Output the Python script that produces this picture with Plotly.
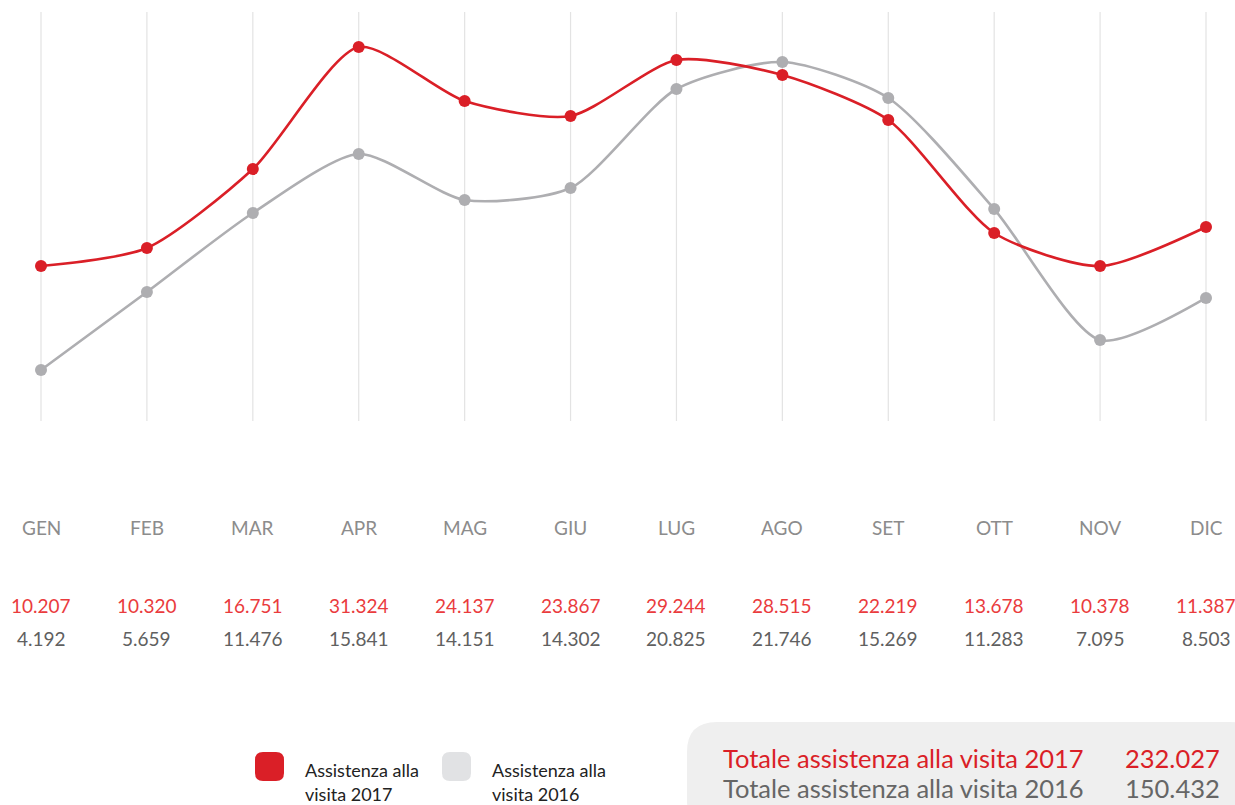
import plotly.graph_objects as go

months = ["GEN", "FEB", "MAR", "APR", "MAG", "GIU", "LUG", "AGO", "SET", "OTT", "NOV", "DIC"]
# labelled values (thousands, Italian format)
labels_2017 = ["10.207", "10.320", "16.751", "31.324", "24.137", "23.867",
               "29.244", "28.515", "22.219", "13.678", "10.378", "11.387"]
labels_2016 = ["4.192", "5.659", "11.476", "15.841", "14.151", "14.302",
               "20.825", "21.746", "15.269", "11.283", "7.095", "8.503"]
# curve heights as drawn in the picture (chart units)
curve_2017 = [13.26, 14.80, 21.56, 32.00, 27.38, 26.10, 30.89, 29.61, 25.76, 16.09, 13.26, 16.60]
curve_2016 = [4.36, 11.04, 17.80, 22.85, 18.91, 19.94, 28.41, 30.72, 27.64, 18.14, 6.93, 10.53]
total_2017 = "232.027"
total_2016 = "150.432"

W, H = 1235, 805
RED = "#da1f27"
RED_LIGHT = "#ea3b3d"
GRAY = "#aeaeb1"
FONT = "Lato"

def px(x):
    return x / W

def py(y):
    return 1 - y / H

idx = list(range(len(months)))
fig = go.Figure()

# vertical grid lines
for i in idx:
    fig.add_shape(type="line", xref="x", yref="y", x0=i, x1=i, y0=0, y1=35,
                  line=dict(color="#e3e3e3", width=1.2), layer="below")

fig.add_trace(go.Scatter(x=idx, y=curve_2016, mode="lines+markers",
                         line=dict(color=GRAY, width=2.6, shape="spline", smoothing=0.7),
                         marker=dict(size=12, color=GRAY), hoverinfo="skip"))
fig.add_trace(go.Scatter(x=idx, y=curve_2017, mode="lines+markers",
                         line=dict(color=RED, width=2.6, shape="spline", smoothing=0.7),
                         marker=dict(size=12, color=RED), hoverinfo="skip"))

annotations = []
for i, m in enumerate(months):
    annotations.append(dict(x=i, y=py(527), xref="x", yref="paper", text=m, showarrow=False,
                            font=dict(family=FONT, size=19, color="#8c8c8c"),
                            xanchor="center", yanchor="middle"))
    annotations.append(dict(x=i, y=py(605), xref="x", yref="paper", text=labels_2017[i], showarrow=False,
                            font=dict(family=FONT, size=19, color=RED_LIGHT),
                            xanchor="center", yanchor="middle"))
    annotations.append(dict(x=i, y=py(638), xref="x", yref="paper", text=labels_2016[i], showarrow=False,
                            font=dict(family=FONT, size=19, color="#606060"),
                            xanchor="center", yanchor="middle"))

def rrect(x0, y0, x1, y1, r):
    # rounded rectangle path in paper coords from pixel coords
    X0, X1 = px(x0), px(x1)
    Y0, Y1 = py(y0), py(y1)
    rx, ry = r / W, r / H
    return (f"M {X0+rx},{Y0} L {X1-rx},{Y0} Q {X1},{Y0} {X1},{Y0-ry} "
            f"L {X1},{Y1+ry} Q {X1},{Y1} {X1-rx},{Y1} L {X0+rx},{Y1} "
            f"Q {X0},{Y1} {X0},{Y1+ry} L {X0},{Y0-ry} Q {X0},{Y0} {X0+rx},{Y0} Z")

shapes = [
    dict(type="path", xref="paper", yref="paper", path=rrect(255, 752, 284, 781, 8),
         fillcolor=RED, line=dict(width=0)),
    dict(type="path", xref="paper", yref="paper", path=rrect(442, 752, 471, 781, 8),
         fillcolor="#e1e2e4", line=dict(width=0)),
    dict(type="path", xref="paper", yref="paper", path=rrect(687, 722, 1260, 830, 30),
         fillcolor="#efefef", line=dict(width=0), layer="below"),
]
for s in shapes:
    fig.add_shape(**s)

annotations += [
    dict(x=px(303), y=py(770), xref="paper", yref="paper", text="Assistenza alla", showarrow=False,
         font=dict(family=FONT, size=18, color="#222222"), xanchor="left", yanchor="middle"),
    dict(x=px(303), y=py(794), xref="paper", yref="paper", text="visita 2017", showarrow=False,
         font=dict(family=FONT, size=18, color="#222222"), xanchor="left", yanchor="middle"),
    dict(x=px(490), y=py(770), xref="paper", yref="paper", text="Assistenza alla", showarrow=False,
         font=dict(family=FONT, size=18, color="#222222"), xanchor="left", yanchor="middle"),
    dict(x=px(490), y=py(794), xref="paper", yref="paper", text="visita 2016", showarrow=False,
         font=dict(family=FONT, size=18, color="#222222"), xanchor="left", yanchor="middle"),
    dict(x=px(721), y=py(758), xref="paper", yref="paper", text="Totale assistenza alla visita 2017",
         showarrow=False, font=dict(family=FONT, size=25.5, color=RED), xanchor="left", yanchor="middle"),
    dict(x=px(1222), y=py(758), xref="paper", yref="paper", text=total_2017,
         showarrow=False, font=dict(family=FONT, size=25.5, color=RED), xanchor="right", yanchor="middle"),
    dict(x=px(721), y=py(788), xref="paper", yref="paper", text="Totale assistenza alla visita 2016",
         showarrow=False, font=dict(family=FONT, size=25.5, color="#666666"), xanchor="left", yanchor="middle"),
    dict(x=px(1222), y=py(788), xref="paper", yref="paper", text=total_2016,
         showarrow=False, font=dict(family=FONT, size=25.5, color="#666666"), xanchor="right", yanchor="middle"),
]

scale = (1206 - 41) / 11
r0 = -41 / scale
r1 = r0 + W / scale

fig.update_layout(
    width=W, height=H, margin=dict(l=0, r=0, t=0, b=0),
    paper_bgcolor="white", plot_bgcolor="white", showlegend=False,
    xaxis=dict(range=[r0, r1], showgrid=False, zeroline=False, showticklabels=False, fixedrange=True),
    yaxis=dict(range=[0, 35], domain=[1 - 421 / H, 1 - 12 / H], showgrid=False, zeroline=False,
               showticklabels=False, fixedrange=True),
    annotations=annotations,
    hovermode=False,
)

fig.write_html("out.html", config={"displayModeBar": False},
               post_script="document.body.style.margin='0';document.body.style.overflow='hidden';")
